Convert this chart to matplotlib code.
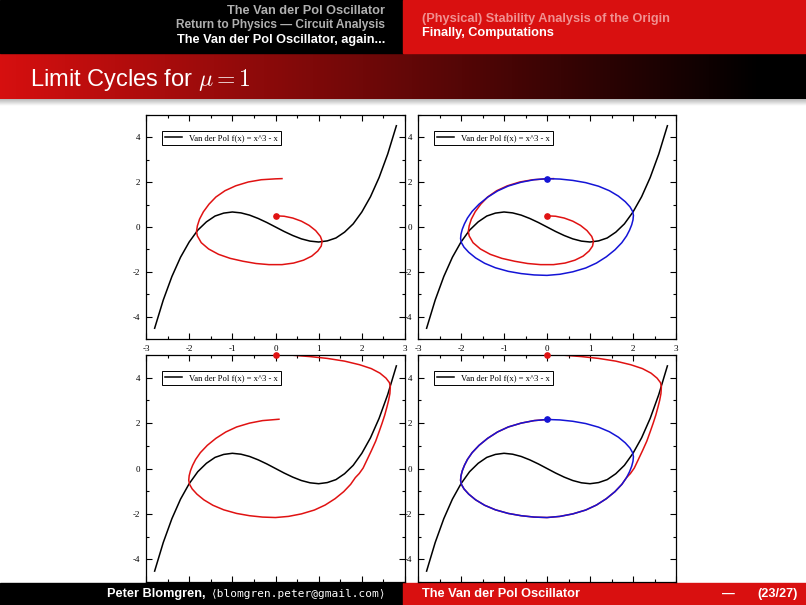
import numpy as np
import matplotlib
matplotlib.use("Agg")
import matplotlib.pyplot as plt
from matplotlib.patches import Rectangle
from matplotlib.ticker import MultipleLocator

plt.rcParams['mathtext.fontset'] = 'cm'
plt.rcParams['axes.unicode_minus'] = False

# --- data ----------------------------------------------------------------
# cubic nullcline f(x)
cubic_x = [-2.8, -2.6, -2.4, -2.2, -2.0, -1.8, -1.6, -1.4, -1.2, -1.0, -0.8, -0.6, -0.4, -0.2,
           0.0, 0.2, 0.4, 0.6, 0.8, 1.0, 1.2, 1.4, 1.6, 1.8, 2.0, 2.2, 2.4, 2.6, 2.8]
cubic_y = [-4.52, -3.26, -2.21, -1.35, -0.67, -0.14, 0.23, 0.49, 0.62, 0.67, 0.63, 0.53, 0.38, 0.20,
           0.00, -0.20, -0.38, -0.53, -0.63, -0.67, -0.62, -0.49, -0.23, 0.14, 0.67, 1.35, 2.21, 3.26, 4.52]

# trajectory starting inside the cycle, from (0, 0.5)
inner_x = [0.00, 0.20, 0.40, 0.60, 0.78, 0.93, 1.04, 1.08, 1.06, 0.98,
           0.84, 0.65, 0.42, 0.15, -0.15, -0.45, -0.75, -1.05, -1.32, -1.55,
           -1.72, -1.81, -1.83, -1.81, -1.76, -1.67, -1.54, -1.38, -1.17, -0.92,
           -0.63, -0.33, 0.00, 0.15]
inner_y = [0.50, 0.48, 0.40, 0.26, 0.07, -0.16, -0.42, -0.63, -0.85, -1.07,
           -1.30, -1.48, -1.61, -1.68, -1.68, -1.63, -1.53, -1.40, -1.22, -0.98,
           -0.70, -0.40, -0.20, 0.05, 0.35, 0.68, 1.02, 1.34, 1.62, 1.84,
           2.01, 2.11, 2.15, 2.16]

# limit cycle, from (0, 2.16) clockwise
cycle_x = [0.00, 0.30, 0.60, 0.90, 1.20, 1.45, 1.66, 1.82, 1.93, 1.99, 2.01, 2.00, 1.97, 1.92,
           1.85, 1.74, 1.58, 1.38, 1.15, 0.90, 0.60, 0.30, 0.00, -0.30, -0.60, -0.90, -1.20,
           -1.45, -1.66, -1.82, -1.93, -1.99, -2.01, -2.00, -1.97, -1.92, -1.85, -1.74, -1.58,
           -1.38, -1.15, -0.90, -0.60, -0.30, 0.00]
cycle_y = [2.16, 2.14, 2.08, 1.98, 1.82, 1.62, 1.38, 1.13, 0.90, 0.70, 0.52, 0.32, 0.10, -0.14,
           -0.40, -0.70, -1.02, -1.33, -1.61, -1.83, -2.00, -2.11, -2.16, -2.14, -2.08, -1.98, -1.82,
           -1.62, -1.38, -1.13, -0.90, -0.70, -0.52, -0.32, -0.10, 0.14, 0.40, 0.70, 1.02,
           1.33, 1.61, 1.83, 2.00, 2.11, 2.16]

# trajectory starting outside the cycle, from (0, 5)
outer_x = [0.00, 0.40, 0.80, 1.20, 1.60, 1.95, 2.22, 2.42, 2.56, 2.64,
           2.66, 2.65, 2.62, 2.58, 2.53, 2.47, 2.40, 2.32, 2.22, 2.12,
           2.03, 1.94, 1.85, 1.74, 1.58, 1.38, 1.15, 0.90, 0.60, 0.30,
           0.00, -0.30, -0.60, -0.90, -1.20, -1.45, -1.66, -1.82, -1.93, -1.99,
           -2.01, -2.00, -1.97, -1.92, -1.85, -1.74, -1.58, -1.38, -1.15, -0.90,
           -0.60, -0.30, 0.08]
outer_y = [5.00, 4.99, 4.93, 4.85, 4.73, 4.57, 4.40, 4.20, 3.98, 3.78,
           3.60, 3.30, 3.00, 2.70, 2.35, 2.00, 1.62, 1.20, 0.78, 0.38,
           0.02, -0.22, -0.40, -0.70, -1.02, -1.33, -1.61, -1.83, -2.00, -2.11,
           -2.16, -2.14, -2.08, -1.98, -1.82, -1.62, -1.38, -1.13, -0.90, -0.70,
           -0.52, -0.32, -0.10, 0.14, 0.40, 0.70, 1.02, 1.33, 1.61, 1.83,
           2.00, 2.11, 2.17]

legend_label = "Van der Pol f(x) = x^3 - x"
header_left = ["The Van der Pol Oscillator", "Return to Physics \u2014 Circuit Analysis",
               "The Van der Pol Oscillator, again..."]
header_right = ["(Physical) Stability Analysis of the Origin", "Finally, Computations"]
title = r"Limit Cycles for $\mu = 1$"
footer_name = "Peter Blomgren,"
footer_mail = "\u27e8blomgren.peter@gmail.com\u27e9"
footer_mid = "The Van der Pol Oscillator"
footer_dash = "\u2014"
footer_page = "(23/27)"

RED = '#d91010'
LRED = '#e01212'
LBLUE = '#1414d6'

W, H = 806, 605
fig = plt.figure(figsize=(W / 100, H / 100), dpi=100)

# slide background drawn in pixel coordinates
bg = fig.add_axes([0, 0, 1, 1])
bg.set_xlim(0, W)
bg.set_ylim(H, 0)
bg.axis('off')

bg.add_patch(Rectangle((0, 0), 403, 53, color='black'))
bg.add_patch(Rectangle((403, 0), W - 403, 53, color=RED))
t = np.clip(np.linspace(0, 1, 400) * W / 760, 0, 1)
grad = np.zeros((1, 400, 3))
grad[0, :, 0] = 0.84 * (1 - t)
grad[0, :, 1] = 0.06 * (1 - t)
grad[0, :, 2] = 0.06 * (1 - t)
bg.imshow(grad, extent=(0, W, 99, 53), aspect='auto')
shade = np.linspace(0.72, 1.0, 20).reshape(20, 1) * np.ones((20, 2))
bg.imshow(shade, extent=(0, W, 106, 99), aspect='auto', cmap='gray', vmin=0, vmax=1)
bg.add_patch(Rectangle((0, 583), 403, 22, color='black'))
bg.add_patch(Rectangle((403, 583), W - 403, 22, color=RED))
bg.set_xlim(0, W)
bg.set_ylim(H, 0)

hfont = dict(family='Liberation Sans', fontweight='bold', fontsize=9.2)
bg.text(385, 11, header_left[0], ha='right', va='center', color='#b0b0b0', **hfont)
bg.text(385, 25, header_left[1], ha='right', va='center', color='#b0b0b0',
        family='Liberation Sans', fontweight='bold', fontsize=8.6)
bg.text(385, 40, header_left[2], ha='right', va='center', color='white', **hfont)
bg.text(422, 19, header_right[0], ha='left', va='center', color='#f09090', **hfont)
bg.text(422, 33, header_right[1], ha='left', va='center', color='white', **hfont)
bg.text(30, 80, title, ha='left', va='center', color='white', family='Liberation Sans', fontsize=17)

mail = bg.text(386, 594, footer_mail, ha='right', va='center', color='white',
               family=['DejaVu Sans Mono', 'DejaVu Sans'], fontsize=8)
fig.canvas.draw()
bb = mail.get_window_extent(fig.canvas.get_renderer())
bg.text(bb.x0 - 5, 594, footer_name, ha='right', va='center', color='white', **hfont)
bg.text(422, 594, footer_mid, ha='left', va='center', color='white', **hfont)
bg.text(722, 594, footer_dash, ha='left', va='center', color='white', **hfont)
bg.text(798, 594, footer_page, ha='right', va='center', color='white', **hfont)


def px_rect(l, t, r, b):
    return [l / W, 1 - b / H, (r - l) / W, (b - t) / H]


def panel(rect, show_xlabels):
    ax = fig.add_axes(px_rect(*rect))
    ax.set_xlim(-3, 3)
    ax.set_ylim(-5, 5)
    ax.xaxis.set_major_locator(MultipleLocator(1))
    ax.xaxis.set_minor_locator(MultipleLocator(0.5))
    ax.yaxis.set_major_locator(MultipleLocator(2))
    ax.yaxis.set_minor_locator(MultipleLocator(1))
    ax.tick_params(which='both', direction='in', top=True, right=True, width=0.8,
                   labelsize=6.5, pad=4, labelbottom=show_xlabels)
    ax.tick_params(which='major', length=4)
    ax.tick_params(which='minor', length=2.5)
    for lab in ax.get_xticklabels() + ax.get_yticklabels():
        lab.set_family('Liberation Serif')
    for s in ax.spines.values():
        s.set_linewidth(0.9)
    ax.plot(cubic_x, cubic_y, color='black', lw=1.1, label=legend_label)
    leg = ax.legend(loc='upper left', bbox_to_anchor=(0.062, 0.93), borderaxespad=0,
                    fancybox=False, edgecolor='black', framealpha=1, handlelength=2.0,
                    borderpad=0.35, handletextpad=0.8,
                    prop={'family': 'Liberation Serif', 'size': 6.2})
    leg.get_frame().set_linewidth(0.7)
    return ax


ax1 = panel((146, 115, 405, 339), True)
ax1.plot(inner_x, inner_y, color=LRED, lw=1.1)
ax1.plot(inner_x[0], inner_y[0], 'o', color=LRED, ms=3.8, zorder=5)

ax2 = panel((418, 115, 676, 339), True)
ax2.plot(inner_x, inner_y, color=LRED, lw=1.1)
ax2.plot(cycle_x, cycle_y, color=LBLUE, lw=1.1)
ax2.plot(inner_x[0], inner_y[0], 'o', color=LRED, ms=3.8, zorder=5)
ax2.plot(cycle_x[0], cycle_y[0], 'o', color=LBLUE, ms=3.8, zorder=5)

ax3 = panel((146, 355, 405, 582), False)
ax3.plot(outer_x, outer_y, color=LRED, lw=1.1)
ax3.plot(outer_x[0], outer_y[0], 'o', color=LRED, ms=3.8, zorder=5, clip_on=False)

ax4 = panel((418, 355, 676, 582), False)
ax4.plot(outer_x, outer_y, color=LRED, lw=1.1)
ax4.plot(cycle_x, cycle_y, color=LBLUE, lw=1.1)
ax4.plot(outer_x[0], outer_y[0], 'o', color=LRED, ms=3.8, zorder=5, clip_on=False)
ax4.plot(cycle_x[0], cycle_y[0], 'o', color=LBLUE, ms=3.8, zorder=5)

fig.savefig('out.png', dpi=100)
